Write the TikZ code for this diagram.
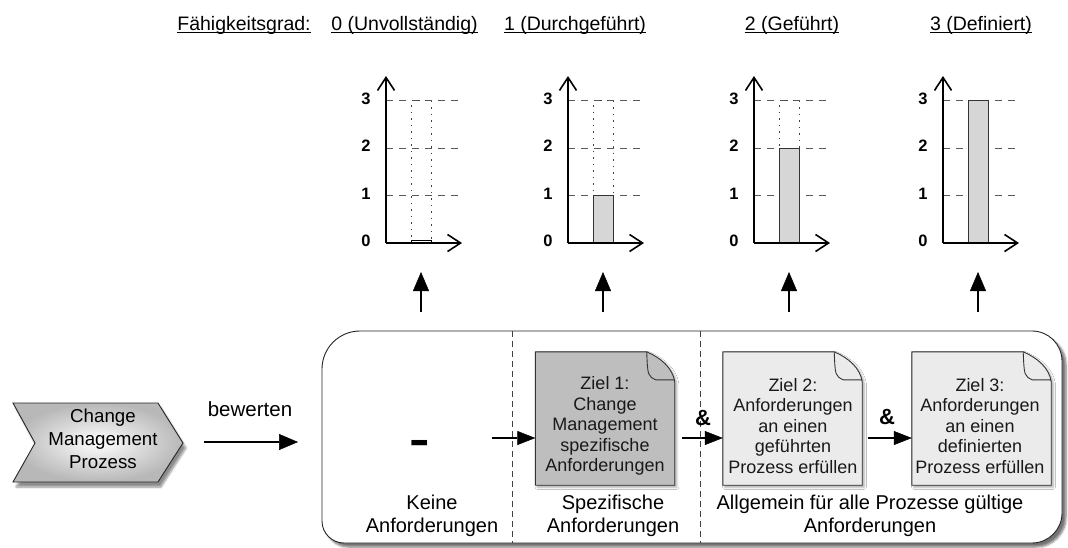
\documentclass[tikz,border=0pt]{standalone}
\usepackage{fontspec}
\setmainfont{Liberation Sans}
\usetikzlibrary{arrows.meta,shadows.blur,calc}
\newsavebox\ulbox
\newcommand\uline[1]{\sbox\ulbox{#1}\rlap{\rule[-3pt]{\wd\ulbox}{1.3pt}}\usebox\ulbox}
\definecolor{docdark}{HTML}{BEBEBE}
\definecolor{doclight}{HTML}{EBEBEB}
\definecolor{barfill}{HTML}{D6D6D6}
\newcommand\drawdoc[2]{%
  \draw[docline, fill=#2, blur shadow={shadow xshift=2pt,shadow yshift=-2pt,shadow blur steps=4,shadow opacity=35}]
    (#1.north west) -- ([xshift=-28pt]#1.north east)
    .. controls ([xshift=-14pt,yshift=-6pt]#1.north east) and ([xshift=-2pt,yshift=-16pt]#1.north east) .. ([yshift=-30pt]#1.north east)
    -- (#1.south east) -- (#1.south west) -- cycle;
  \draw[docline] ([xshift=-28pt]#1.north east)
    .. controls ([xshift=-27pt,yshift=-24pt]#1.north east) .. ([xshift=-19pt,yshift=-28pt]#1.north east)
    -- ([yshift=-28pt]#1.north east);
}
\begin{document}
\begin{tikzpicture}[x=1pt,y=-1pt,
  toplabel/.style={anchor=base, inner sep=0, font=\fontsize{19.5}{23}\selectfont},
  biglabel/.style={align=center, inner sep=0, font=\fontsize{20}{23}\selectfont},
  axlabel/.style={inner sep=0, font=\fontsize{16.5}{18}\selectfont\bfseries},
  axisline/.style={line width=1.8pt, -{Straight Barb[length=13pt,width=17pt,line width=1.6pt]}},
  gridline/.style={black!65, line width=0.9pt, dash pattern=on 7pt off 6pt},
  dotline/.style={black!75, line width=0.9pt, dash pattern=on 1.5pt off 5pt},
  barstyle/.style={fill=barfill, draw=black!80, line width=0.9pt},
  uparrow/.style={line width=2pt, -{Triangle[length=19pt,width=16pt,fill=black,line width=0.5pt]}},
  inarrow/.style={line width=2pt, -{Triangle[length=18pt,width=14pt,fill=black,line width=0.5pt]}},
  docline/.style={draw=black!80, line width=0.9pt},
  docbox/.style={minimum width=139pt, minimum height=133pt, inner sep=0, draw=none},
  doctext/.style={align=center, inner sep=0, text=black!90, font=\fontsize{18}{20.5}\selectfont},
  amp/.style={inner sep=0, font=\fontsize{22}{22}\selectfont\bfseries},
]
\useasboundingbox (0,0) rectangle (1068,547);

% top labels
\node[toplabel] (fg) at (244,30) {\uline{Fähigkeitsgrad:}};
\node[toplabel] (g0) at (404.5,30) {\uline{0 (Unvollständig)}};
\node[toplabel] (g1) at (575,30) {\uline{1 (Durchgeführt)}};
\node[toplabel] (g2) at (792,30) {\uline{2 (Geführt)}};
\node[toplabel] (g3) at (981,30) {\uline{3 (Definiert)}};

% charts
\foreach \xo/\lv/\nm in {386/0/ca,568/1/cb,754/2/cc,943/3/cd} {
  \foreach \k in {1,2,3} \draw[gridline] (\xo,243-47.5*\k) -- ++(72,0);
  \ifnum\lv<3
    \draw[dotline] (\xo+25,243) -- (\xo+25,100.5) -- (\xo+45,100.5) -- (\xo+45,243);
  \fi
  \ifnum\lv=0
    \draw[fill=white, draw=black, line width=0.9pt] (\xo+25,243) rectangle (\xo+45,240.5);
  \else
    \draw[barstyle] (\xo+25,243) rectangle (\xo+45,243-47.5*\lv);
  \fi
  \draw[axisline] (\xo,243) -- (\xo,76);
  \draw[axisline] (\xo,243) -- (\xo+76,243);
  \foreach \k in {0,1,2,3} \node[axlabel] (\nm-\k) at (\xo-20,241-47.5*\k) {\k};
  \coordinate (\nm-up0) at (\xo+35,312);
  \coordinate (\nm-up1) at (\xo+35,272);
  \draw[uparrow] (\nm-up0) -- (\nm-up1);
}

% chevron
\shade[inner color=white, outer color=black!28, draw=black!85, line width=0.9pt,
  blur shadow={shadow xshift=3pt,shadow yshift=-5pt,shadow blur steps=6,shadow opacity=45}]
  (13,403) -- (158,403) -- (183,443) -- (158,482) -- (13,482) -- (35,443) -- cycle;
\node[align=center, inner sep=0, font=\fontsize{18.7}{23}\selectfont] (proc) at (103,439) {Change\\Management\\Prozess};

% bewerten
\node[anchor=base, inner sep=0, font=\fontsize{20.5}{23}\selectfont] (bew) at (250,416) {bewerten};
\coordinate (bw0) at (204,442);
\coordinate (bw1) at (298,442);
\draw[uparrow] (bw0) -- (bw1);

% big box
\draw[draw=black!85, line width=0.9pt, fill=white,
  blur shadow={shadow xshift=4pt,shadow yshift=-4pt,shadow blur steps=6,shadow opacity=55}]
  (322,440) {[rounded corners=38pt] -- (322,331) -- (700,331)}
  {[rounded corners=30pt] -- (1062,331) -- (1062,543) -- (700,543)}
  {[rounded corners=22pt] -- (322,543) -- cycle};
\draw[black!75, line width=0.8pt, dash pattern=on 6pt off 4pt] (512,331) -- (512,543);
\draw[black!75, line width=0.8pt, dash pattern=on 6pt off 4pt] (700,331) -- (700,543);

% bottom labels
\node[biglabel] (l0) at (432,516) {Keine\\Anforderungen};
\node[biglabel] (l1) at (613,516) {Spezifische\\Anforderungen};
\node[biglabel] (l2) at (870,516) {Allgemein für alle Prozesse gültige\\Anforderungen};

% dash
\node[inner sep=0, font=\fontsize{44}{44}\selectfont\bfseries] (dash) at (420,447) {\scalebox{1.4}[1]{-}};

% documents
\node[docbox] (doc1) at (605,418.5) {};
\node[docbox] (doc2) at (792.5,418.5) {};
\node[docbox] (doc3) at (981.5,418.5) {};
\drawdoc{doc1}{docdark}
\drawdoc{doc2}{doclight}
\drawdoc{doc3}{doclight}
\node[doctext] (t1) at (605,426) {Ziel 1:\\Change\\Management\\spezifische\\Anforderungen};
\node[doctext] (t2) at (793,426) {Ziel 2:\\Anforderungen\\an einen\\geführten\\Prozess erfüllen};
\node[doctext] (t3) at (980,426) {Ziel 3:\\Anforderungen\\an einen\\definierten\\Prozess erfüllen};

% ampersands
\node[amp] (amp1) at (703,418) {\&};
\node[amp] (amp2) at (887,417) {\&};

% inner arrows
\coordinate (ia0) at (492,438);
\draw[inarrow] (ia0) -- (ia0 -| doc1.west);
\coordinate (ia1) at (682,438);
\draw[inarrow] (ia1) -- (ia1 -| doc2.west);
\coordinate (ia2) at (868,438);
\draw[inarrow] (ia2) -- (ia2 -| doc3.west);
\end{tikzpicture}
\end{document}
